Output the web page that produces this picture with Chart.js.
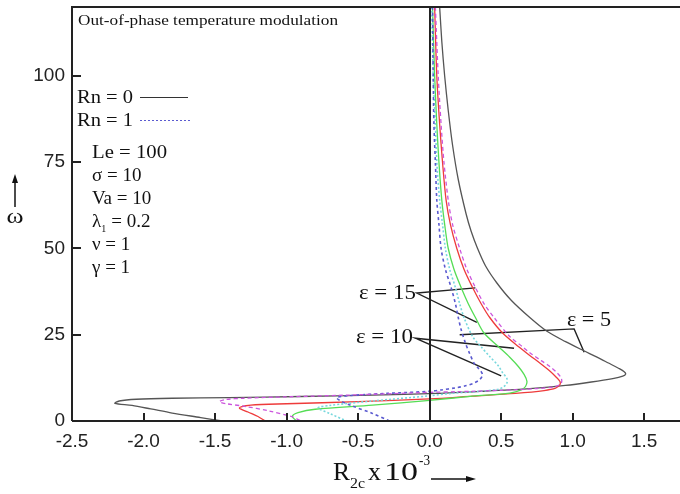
<!DOCTYPE html>
<html>
<head>
<meta charset="utf-8">
<script src="https://cdn.jsdelivr.net/npm/chart.js@4.4.0/dist/chart.umd.min.js"></script>
<style>
  html, body { margin: 0; padding: 0; background: #fff; }
</style>
</head>
<body>
<canvas id="grafico" width="680" height="494"></canvas>
<script>
// axis ticks
const xTicks = [-2.5, -2.0, -1.5, -1.0, -0.5, 0.0, 0.5, 1.0, 1.5];
const yTicks = [0, 25, 50, 75, 100];

// eps = 5, Rn = 0 (black solid)
const r5Rn0 = [0.07, 0.085, 0.105, 0.13, 0.16, 0.2, 0.255, 0.29, 0.335, 0.39, 0.47, 0.57, 0.7, 0.82, 0.95, 1.07, 1.17, 1.25, 1.32, 1.36, 1.37, 1.35, 1.28, 1.13, 0.95, 0.7, 0.4, 0.05, -0.4, -0.9, -1.4, -1.8, -2.05, -2.17, -2.2, -2.08, -1.95, -1.8, -1.6, -1.45];
const w5Rn0 = [120, 110, 100, 90, 80, 70, 60, 55, 50, 45, 40, 35, 30, 26, 23, 20.5, 18.5, 16.8, 15.3, 14.3, 13.6, 13, 12.3, 11.3, 10.3, 9.4, 8.7, 8, 7.5, 7.1, 6.8, 6.6, 6.3, 5.8, 5.1, 4.5, 3.5, 2.3, 1, 0];
// eps = 5, Rn = 1 (blue dotted)
const r5Rn1 = [0.02, 0.025, 0.03, 0.04, 0.05, 0.065, 0.08, 0.11, 0.15, 0.18, 0.2, 0.22, 0.25, 0.28, 0.31, 0.34, 0.36, 0.37, 0.35, 0.31, 0.25, 0.18, 0.08, 0, -0.3, -0.55, -0.65, -0.63, -0.55, -0.4, -0.28];
const w5Rn1 = [120, 100, 86, 75, 64, 57, 50, 44, 38.7, 34, 30, 26.5, 22.6, 19.5, 16.8, 15.3, 14.3, 13.3, 12, 11, 10.2, 9.6, 9, 8.6, 8.0, 7.4, 6.8, 6.0, 4.5, 2.2, 0];
// eps = 10, Rn = 0 (red solid)
const r10Rn0 = [0.035, 0.05, 0.07, 0.09, 0.115, 0.145, 0.19, 0.24, 0.3, 0.36, 0.42, 0.51, 0.62, 0.7, 0.77, 0.84, 0.88, 0.91, 0.91, 0.88, 0.8, 0.6, 0.3, 0, -0.5, -1.0, -1.25, -1.33, -1.27, -1.2, -1.15];
const w10Rn0 = [120, 100, 86, 75, 64, 57, 50, 44, 38.7, 34, 30, 25.5, 21.6, 19, 16.8, 14.5, 12.9, 11.5, 10.5, 9.5, 8.8, 8, 7.2, 6.4, 5.6, 5.0, 4.6, 3.8, 2.6, 1.3, 0];
// eps = 10, Rn = 1 (cyan dotted)
const r10Rn1 = [0.015, 0.025, 0.04, 0.05, 0.07, 0.09, 0.11, 0.14, 0.18, 0.21, 0.24, 0.3, 0.36, 0.42, 0.48, 0.51, 0.54, 0.54, 0.52, 0.48, 0.35, 0.15, 0, -0.4, -0.7, -0.78, -0.7, -0.58];
const w10Rn1 = [120, 100, 86, 75, 64, 57, 50, 44, 38.7, 34, 30, 24.5, 21.5, 18.7, 16, 14, 12.3, 11, 10, 9.2, 8.6, 8.0, 7.3, 5.8, 4.5, 3.8, 2.2, 0];
// eps = 15, Rn = 0 (green solid)
const r15Rn0 = [0.02, 0.035, 0.05, 0.065, 0.085, 0.105, 0.13, 0.17, 0.22, 0.27, 0.32, 0.38, 0.48, 0.56, 0.62, 0.66, 0.68, 0.67, 0.64, 0.56, 0.3, 0, -0.4, -0.8, -0.92, -0.96, -0.93];
const w15Rn0 = [120, 100, 86, 75, 64, 57, 50, 44, 38.7, 34, 30, 25.5, 21.6, 18.5, 15.8, 13.5, 11.5, 10, 9, 8.1, 7.2, 6, 4.6, 3.4, 2.4, 1.3, 0];
// eps = 15, Rn = 1 (magenta dashed)
const r15Rn1 = [0.04, 0.06, 0.08, 0.1, 0.13, 0.16, 0.21, 0.26, 0.32, 0.38, 0.45, 0.56, 0.65, 0.7, 0.78, 0.84, 0.89, 0.92, 0.92, 0.88, 0.75, 0.5, 0.2, 0, -0.5, -1.0, -1.3, -1.43, -1.47, -1.42, -1.3, -1.12, -0.96, -0.9];
const w15Rn1 = [120, 100, 86, 75, 64, 57, 50, 44, 38.7, 34, 30, 24.5, 21.5, 19.8, 17.5, 15.8, 14, 12.4, 11, 10, 9.4, 8.9, 8.5, 8.3, 7.6, 7.0, 6.6, 6.2, 5.6, 5.0, 4.3, 2.9, 1.2, 0];

// leader lines for the eps labels
const lead15X = [0.32, -0.09, 0.33];
const lead15Y = [38.6, 37.1, 28.6];
const lead10X = [0.59, -0.1, 0.5];
const lead10Y = [21.1, 24.0, 13.1];
const lead5X = [0.21, 1.01, 1.08];
const lead5Y = [25.0, 26.7, 19.9];

function pontos(xs, ys) {
  return xs.map((x, i) => ({ x: x, y: ys[i] }));
}

function curva(xs, ys, cor, traco, larg) {
  return {
    data: pontos(xs, ys),
    showLine: true,
    borderColor: cor,
    borderWidth: larg || 1.3,
    borderDash: traco || [],
    pointRadius: 0,
    tension: 0.3,
    fill: false
  };
}

function guia(xs, ys) {
  return {
    data: pontos(xs, ys),
    showLine: true,
    borderColor: '#222',
    borderWidth: 1.4,
    pointRadius: 0,
    tension: 0,
    fill: false
  };
}

// text squeezed or stretched to a given width (the figure was resized)
function texto(ctx, s, x, y, font, largura, align) {
  ctx.save();
  ctx.font = font;
  ctx.textBaseline = 'alphabetic';
  const w0 = ctx.measureText(s).width;
  const sx = largura ? largura / w0 : 1;
  const w = w0 * sx;
  let x0 = x;
  if (align === 'right') x0 = x - w;
  if (align === 'center') x0 = x - w / 2;
  ctx.translate(x0, y);
  ctx.scale(sx, 1);
  ctx.textAlign = 'left';
  ctx.fillText(s, 0, 0);
  ctx.restore();
  return w;
}

const moldura = {
  id: 'moldura',
  afterDraw(chart) {
    const ctx = chart.ctx;
    const a = chart.chartArea;
    const sx = chart.scales.x;
    const sy = chart.scales.y;
    ctx.save();
    ctx.strokeStyle = '#222';
    ctx.fillStyle = '#222';
    ctx.lineWidth = 2;
    ctx.beginPath();
    ctx.moveTo(a.left, a.bottom);
    ctx.lineTo(a.left, a.top);
    ctx.lineTo(a.right, a.top);
    ctx.moveTo(a.left, a.bottom);
    ctx.lineTo(a.right, a.bottom);
    // vertical line at R = 0
    const x0 = Math.round(sx.getPixelForValue(0));
    ctx.moveTo(x0, a.top);
    ctx.lineTo(x0, a.bottom);
    ctx.stroke();

    // inner ticks
    ctx.beginPath();
    xTicks.forEach(v => {
      const px = Math.round(sx.getPixelForValue(v));
      ctx.moveTo(px, a.bottom);
      ctx.lineTo(px, a.bottom - 8);
    });
    yTicks.forEach(v => {
      const py = Math.round(sy.getPixelForValue(v));
      ctx.moveTo(a.left, py);
      ctx.lineTo(a.left + 9, py);
    });
    ctx.stroke();

    const serif = '"Liberation Serif", "DejaVu Serif", serif';
    ctx.fillStyle = '#111';
    texto(ctx, 'Out-of-phase temperature modulation', 78, 25, '14px ' + serif, 260);

    texto(ctx, 'Rn = 0', 77, 103, '19px ' + serif, 56);
    texto(ctx, 'Rn = 1', 77, 126, '19px ' + serif, 56);
    ctx.lineWidth = 1;
    ctx.strokeStyle = '#333';
    ctx.beginPath();
    ctx.moveTo(140, 97.5);
    ctx.lineTo(188, 97.5);
    ctx.stroke();
    ctx.strokeStyle = '#5a5ad0';
    ctx.setLineDash([2, 2]);
    ctx.beginPath();
    ctx.moveTo(140, 120.5);
    ctx.lineTo(190, 120.5);
    ctx.stroke();
    ctx.setLineDash([]);

    texto(ctx, 'Le = 100', 92, 158, '19px ' + serif, 75);
    texto(ctx, '\u03c3 = 10', 92, 181, '19px ' + serif);
    texto(ctx, 'Va = 10', 92, 204, '19px ' + serif);
    let w = texto(ctx, '\u03bb', 92, 227, '19px ' + serif);
    texto(ctx, '1', 92 + w, 232, '10px ' + serif);
    texto(ctx, '= 0.2', 92 + w + 10, 227, '19px ' + serif);
    texto(ctx, '\u03bd = 1', 92, 250, '19px ' + serif);
    texto(ctx, '\u03b3 = 1', 92, 273, '19px ' + serif);

    // eps labels
    texto(ctx, '\u03b5 = 15', 416, 299, '20px ' + serif, 57, 'right');
    texto(ctx, '\u03b5 = 10', 413, 343, '20px ' + serif, 57, 'right');
    texto(ctx, '\u03b5 = 5', 567, 326, '20px ' + serif, 44);

    // y title with arrow
    ctx.strokeStyle = '#111';
    ctx.lineWidth = 1.5;
    ctx.beginPath();
    ctx.moveTo(15, 207);
    ctx.lineTo(15, 180);
    ctx.stroke();
    ctx.beginPath();
    ctx.moveTo(15, 174);
    ctx.lineTo(12, 183);
    ctx.lineTo(18, 183);
    ctx.closePath();
    ctx.fill();
    texto(ctx, '\u03c9', 15, 223, '22px ' + serif, 17, 'center');

    // x title
    texto(ctx, 'R', 333, 480, '25px ' + serif, 17);
    texto(ctx, '2c', 350, 488, '15px ' + serif, 15);
    texto(ctx, 'x', 368, 480, '25px ' + serif, 13);
    texto(ctx, '10', 384, 480, '25px ' + serif, 34);
    texto(ctx, '-3', 419, 465, '15px ' + serif, 11);
    ctx.lineWidth = 1.5;
    ctx.beginPath();
    ctx.moveTo(431, 479);
    ctx.lineTo(468, 479);
    ctx.stroke();
    ctx.beginPath();
    ctx.moveTo(476, 479);
    ctx.lineTo(466, 476);
    ctx.lineTo(466, 482);
    ctx.closePath();
    ctx.fill();
    ctx.restore();
  }
};

new Chart(document.getElementById('grafico'), {
  type: 'scatter',
  data: {
    datasets: [
      curva(r15Rn1, w15Rn1, '#cc55dd', [4, 3]),
      curva(r5Rn1, w5Rn1, '#5a5ad0', [3, 3], 1.6),
      curva(r10Rn1, w10Rn1, '#77d8dd', [2, 2], 1.6),
      curva(r15Rn0, w15Rn0, '#55dd55'),
      curva(r10Rn0, w10Rn0, '#ee3b3b'),
      curva(r5Rn0, w5Rn0, '#555555'),
      guia(lead15X, lead15Y),
      guia(lead10X, lead10Y),
      guia(lead5X, lead5Y)
    ]
  },
  options: {
    responsive: false,
    animation: false,
    layout: { padding: { top: 7, right: 0, left: 0, bottom: 0 } },
    plugins: {
      legend: { display: false },
      tooltip: { enabled: false }
    },
    scales: {
      x: {
        type: 'linear',
        min: -2.5,
        max: 1.75,
        afterBuildTicks: s => { s.ticks = xTicks.map(v => ({ value: v })); },
        afterFit: s => { s.height = 73; s.paddingLeft = 0; s.paddingRight = 0; },
        grid: { display: false, drawTicks: false },
        border: { display: false },
        ticks: {
          autoSkip: false,
          maxRotation: 0,
          padding: 9,
          color: '#222',
          font: { family: '"Liberation Sans", Arial, sans-serif', size: 19 },
          callback: v => v.toFixed(1)
        }
      },
      y: {
        type: 'linear',
        min: 0,
        max: 120,
        afterBuildTicks: s => { s.ticks = yTicks.map(v => ({ value: v })); },
        afterFit: s => { s.width = 72; s.paddingTop = 0; s.paddingBottom = 0; },
        grid: { display: false, drawTicks: false },
        border: { display: false },
        ticks: {
          padding: 7,
          color: '#222',
          font: { family: '"Liberation Sans", Arial, sans-serif', size: 19 }
        }
      }
    }
  },
  plugins: [moldura]
});
</script>
</body>
</html>
